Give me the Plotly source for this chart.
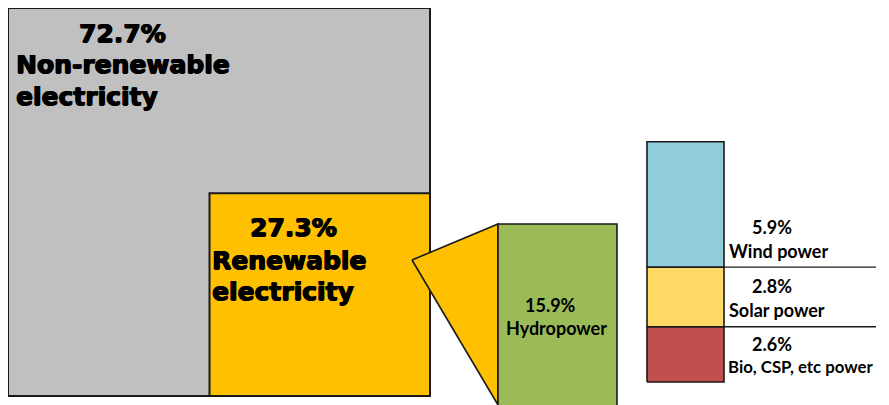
import math
import plotly.graph_objects as go

# ---------------- data ----------------
main_labels = ["Non-renewable electricity", "Renewable electricity"]
main_shares = [72.7, 27.3]

renew_labels = ["Hydropower", "Wind power", "Solar power", "Bio, CSP, etc power"]
renew_shares = [15.9, 5.9, 2.8, 2.6]

# ---------------- styles ----------------
GRAY = "#c0c0c0"
ORANGE = "#ffc000"
GREEN = "#9bbb59"
BLUE = "#92cddc"
LYELLOW = "#ffd966"
RED = "#c0504d"
EDGE = "#1a1a1a"

PAGE_W, PAGE_H = 889, 405
BODY = 8  # default page margin around the plot div
W, H = PAGE_W - BODY, PAGE_H - BODY

# layout helpers: map page pixels to axis units (gray square = 1 x 1 = 100%)
PXX, PXY = 422.0, 388.0
OX, OY = 8.0, 396.0


def X(px):
    return (px - OX) / PXX


def Y(py):
    return (OY - py) / PXY


xr = [X(BODY), X(PAGE_W)]
yr = [Y(PAGE_H), Y(BODY)]

fig = go.Figure()


def poly(xs, ys, fill, lw=1.6, color=EDGE):
    fig.add_trace(go.Scatter(x=list(xs) + [xs[0]], y=list(ys) + [ys[0]], mode="lines",
                             fill="toself", fillcolor=fill,
                             line=dict(color=color, width=lw), hoverinfo="skip"))


def rect(x0, y0, x1, y1, fill, lw=1.6, color=EDGE):
    poly([x0, x1, x1, x0], [y0, y0, y1, y1], fill, lw, color)


# total square (area = 100%)
side_total = math.sqrt(sum(main_shares) / 100.0)
rect(0, 0, side_total, side_total, GRAY, 2)

# renewable square (area = its share), bottom-right aligned
s_ren = math.sqrt(main_shares[1] / 100.0)
rect(side_total - s_ren, 0, side_total, s_ren, ORANGE, 2)

# hydropower bar (area proportional)
gx0 = X(498)
gw = 119 / PXX
gtop = Y(224)
gh = renew_shares[0] / 100.0 / gw

# connector triangle from renewable square to hydro bar
poly([X(412), gx0, gx0], [Y(260), gtop, yr[0]], ORANGE, 1.6)

rect(gx0, gtop - gh, gx0 + gw, gtop, GREEN, 1.6)

# stacked bar of the other renewables (area proportional)
sx0 = X(647)
sw = 77 / PXX
sbot = Y(382)
seg_colors = [BLUE, LYELLOW, RED]
others = list(zip(renew_labels[1:], renew_shares[1:], seg_colors))
y = sbot
bounds = {}
for name, val, col in reversed(others):
    h = val / 100.0 / sw
    rect(sx0, y, sx0 + sw, y + h, col, 1.6)
    bounds[name] = (y, y + h)
    y += h

# separator lines right of the stack
line_end = X(876)
sep_ys = [bounds[renew_labels[1]][0], bounds[renew_labels[2]][0]]
for sy in sep_ys:
    fig.add_trace(go.Scatter(x=[sx0 + sw, line_end], y=[sy, sy], mode="lines",
                             line=dict(color=EDGE, width=1.4), hoverinfo="skip"))

# ---------------- text ----------------
BIG = dict(family="DejaVu Sans", size=25, color="black", weight=700,
           shadow="0.8px 0 0 black, -0.6px 0 0 black, 0 0.6px 0 black")
SMALL = dict(family="Lato", size=18, color="black", weight=700)
SMALL_NARROW = dict(family="Lato", size=16.8, color="black", weight=700)


def ann(x, y, text, font, xanchor="left"):
    fig.add_annotation(x=x, y=y, xref="x", yref="y", text=text, showarrow=False,
                       font=font, xanchor=xanchor, yanchor="middle", borderpad=0)


d = 1 / PXY  # one pixel in y units

# gray square labels
ann(X(122), Y(33), f"{main_shares[0]}%", BIG, "center")
l1, l2 = main_labels[0].split(" ")
ann(X(15), Y(64), l1, BIG)
ann(X(15), Y(96), l2, BIG)

# renewable square labels
ann(X(293), Y(227), f"{main_shares[1]}%", BIG, "center")
r1, r2 = main_labels[1].split(" ")
ann(X(211), Y(260), r1, BIG)
ann(X(211), Y(291), r2, BIG)

# hydro labels
ann(X(550), Y(305), f"{renew_shares[0]}%", SMALL, "center")
ann(X(556), Y(328), renew_labels[0], SMALL, "center")

# wind labels (above its lower boundary)
wb = bounds[renew_labels[1]][0]
ann(X(751), wb + 40 * d, f"{renew_shares[1]}%", SMALL)
ann(X(728), wb + 16 * d, renew_labels[1], SMALL)
# solar labels (below its top)
st = bounds[renew_labels[2]][1]
ann(X(751), st - 19 * d, f"{renew_shares[2]}%", SMALL)
ann(X(728), st - 43 * d, renew_labels[2], SMALL)
# bio labels (below its top)
bt = bounds[renew_labels[3]][1]
ann(X(751), bt - 17 * d, f"{renew_shares[3]}%", SMALL)
ann(X(727), bt - 40 * d, renew_labels[3], SMALL_NARROW)

fig.update_layout(
    width=W, height=H, margin=dict(l=0, r=0, t=0, b=0),
    paper_bgcolor="white", plot_bgcolor="white", showlegend=False,
    xaxis=dict(range=xr, visible=False, fixedrange=True),
    yaxis=dict(range=yr, visible=False, fixedrange=True),
)

fig.write_html("out.html")
